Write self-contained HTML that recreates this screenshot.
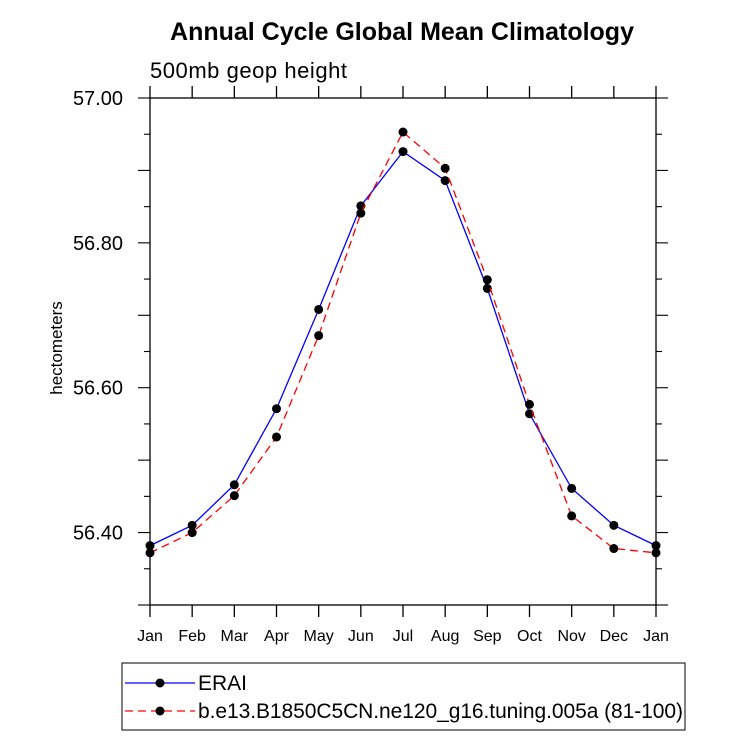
<!DOCTYPE html>
<html><head><meta charset="utf-8"><style>body{margin:0;background:#fff}svg{display:block;font-family:"Liberation Sans",sans-serif}</style></head>
<body>
<svg width="733" height="737" id="c">
<text x="402" y="40" font-size="25" font-weight="bold" text-anchor="middle">Annual Cycle Global Mean Climatology</text>
<text x="150" y="78" font-size="22" textLength="197">500mb geop height</text>
<text transform="translate(62,348) rotate(-90)" font-size="17" text-anchor="middle">hectometers</text>
<g id="axes"></g>
<g id="series"></g>
<rect x="122" y="663" width="563" height="67" fill="none" stroke="#000" stroke-width="1"/>
<g>
<line x1="125" y1="683" x2="195" y2="683" stroke="#00f" stroke-width="1.3"/>
<circle cx="160" cy="683" r="4.5"/>
<text x="198" y="690" font-size="21">ERAI</text>
</g>
<g>
<line x1="125" y1="711" x2="195" y2="711" stroke="#f00" stroke-width="1.3" stroke-dasharray="8,5"/>
<circle cx="160" cy="711" r="4.5"/>
<text x="198" y="718" font-size="21" textLength="485">b.e13.B1850C5CN.ne120_g16.tuning.005a (81-100)</text>
</g>
</svg>
<script>
const months=["Jan","Feb","Mar","Apr","May","Jun","Jul","Aug","Sep","Oct","Nov","Dec","Jan"];
const erai=[56.382,56.410,56.466,56.571,56.708,56.851,56.926,56.886,56.737,56.564,56.461,56.410,56.382];
const caseVals=[56.372,56.400,56.451,56.532,56.672,56.841,56.953,56.903,56.749,56.577,56.423,56.378,56.372];
const yTicks=[56.40,56.60,56.80,57.00];
const X0=150,X1=656,Y0=605,Y1=98,YMIN=56.3,YMAX=57.0;
const NS="http://www.w3.org/2000/svg";
function xs(i){return X0+(X1-X0)*i/(months.length-1);}
function ys(v){return Y0-(v-YMIN)/(YMAX-YMIN)*(Y0-Y1);}
function mk(t,a,p){const e=document.createElementNS(NS,t);for(const k in a)e.setAttribute(k,a[k]);p.appendChild(e);return e;}
const ax=document.getElementById('axes');
const fr=mk('rect',{x:X0,y:Y1,width:X1-X0,height:Y0-Y1,fill:'none',stroke:'#000','stroke-width':1.3},ax);


months.forEach((m,i)=>{
 const x=xs(i);
 mk('line',{x1:x,y1:Y0,x2:x,y2:Y0+12,stroke:'#000','stroke-width':1.3},ax);
 mk('line',{x1:x,y1:Y1,x2:x,y2:Y1-12,stroke:'#000','stroke-width':1.3},ax);
 const t=mk('text',{x:x,y:Y0+36,'font-size':16,'text-anchor':'middle'},ax);t.textContent=m;
 
 
});
for(let k=0;k<=28;k++){const v=YMIN+k*0.025;const y=ys(v);
 const major=(k%4===0),mid=(k%2===0);
 const L=major?12:(mid?6:0); if(!L)continue;
 mk('line',{x1:X0,y1:y,x2:X0-L,y2:y,stroke:'#000','stroke-width':1.1},ax);
 mk('line',{x1:X1,y1:y,x2:X1+L,y2:y,stroke:'#000','stroke-width':1.1},ax);}
yTicks.forEach(v=>{const t=mk('text',{x:X0-27,y:ys(v)+7,'font-size':20,'text-anchor':'end'},ax);t.textContent=v.toFixed(2);
 
 });
const sg=document.getElementById('series');
function series(vals,color,dash,name){
 const g=mk('g',{},sg);
 
 
 const pts=vals.map((v,i)=>xs(i)+','+ys(v)).join(' ');
 const a={points:pts,fill:'none',stroke:color,'stroke-width':1.3};if(dash)a['stroke-dasharray']=dash;
 mk('polyline',a,g);
 vals.forEach((v,i)=>{const c=mk('circle',{cx:xs(i),cy:ys(v),r:4.5},g);
  
  });
}
series(erai,'#00f',null,'erai-line');
series(caseVals,'#f00','8,5','case-line');
</script>
</body></html>
